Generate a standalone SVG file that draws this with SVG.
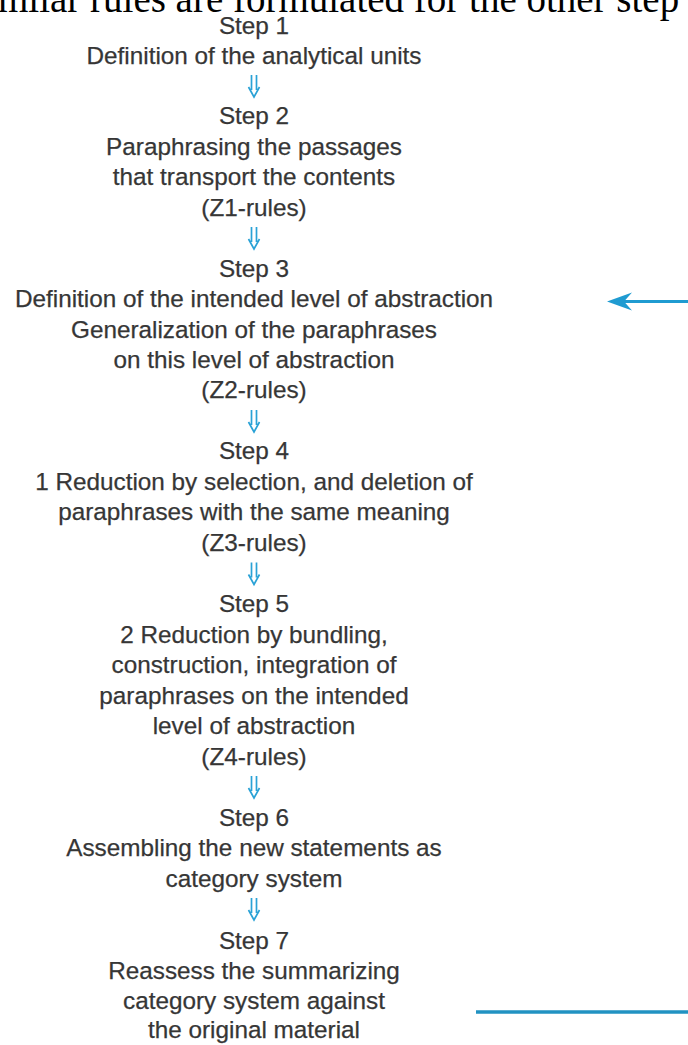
<svg xmlns="http://www.w3.org/2000/svg" width="688" height="1045" viewBox="0 0 688 1045">
<style>
.t{font-family:"Liberation Sans",Arial,sans-serif;font-size:24.3px;fill:#363636;stroke:#363636;stroke-width:0.25;text-anchor:middle}
.s{font-family:"Liberation Serif","Times New Roman",serif;font-size:39px;fill:#000}
.da{fill:none;stroke:#2aa2d6;stroke-width:1.7}
</style>
<defs>
<g id="dbl"><path class="da" d="M-2.5,-11V4M2.5,-11V4M-5.5,1L0,11L5.5,1"/></g>
</defs>
<rect width="688" height="1045" fill="#fff"/>
<text class="s" x="-2" y="12">milar rules are formulated for the other step</text>
<g id="step1"><text class="t" x="254" y="33.5">Step 1</text><text class="t" x="254" y="63.5">Definition of the analytical units</text></g>
<g id="step2"><text class="t" x="254" y="124.4">Step 2</text><text class="t" x="254" y="154.8">Paraphrasing the passages</text><text class="t" x="254" y="185.3">that transport the contents</text><text class="t" x="254" y="215.7">(Z1-rules)</text></g>
<g id="step3"><text class="t" x="254" y="276.6">Step 3</text><text class="t" x="254" y="307">Definition of the intended level of abstraction</text><text class="t" x="254" y="337.5">Generalization of the paraphrases</text><text class="t" x="254" y="368">on this level of abstraction</text><text class="t" x="254" y="398.4">(Z2-rules)</text></g>
<g id="step4"><text class="t" x="254" y="459.3">Step 4</text><text class="t" x="254" y="489.8">1 Reduction by selection, and deletion of</text><text class="t" x="254" y="520.2">paraphrases with the same meaning</text><text class="t" x="254" y="550.7">(Z3-rules)</text></g>
<g id="step5"><text class="t" x="254" y="612">Step 5</text><text class="t" x="254" y="642.5">2 Reduction by bundling,</text><text class="t" x="254" y="673">construction, integration of</text><text class="t" x="254" y="703.5">paraphrases on the intended</text><text class="t" x="254" y="734">level of abstraction</text><text class="t" x="254" y="764.5">(Z4-rules)</text></g>
<g id="step6"><text class="t" x="254" y="825.5">Step 6</text><text class="t" x="254" y="856">Assembling the new statements as</text><text class="t" x="254" y="886.5">category system</text></g>
<g id="step7"><text class="t" x="254" y="948.5">Step 7</text><text class="t" x="254" y="978.5">Reassess the summarizing</text><text class="t" x="254" y="1008.5">category system against</text><text class="t" x="254" y="1038">the original material</text></g>
<g id="connectors">
<use href="#dbl" x="254" y="86"/>
<use href="#dbl" x="254" y="238"/>
<use href="#dbl" x="254" y="421"/>
<use href="#dbl" x="254" y="573.5"/>
<use href="#dbl" x="254" y="787"/>
<use href="#dbl" x="254" y="909"/>
<line x1="688" y1="301.5" x2="616" y2="301.5" stroke="#1f9bd1" stroke-width="3"/>
<polygon points="607,301.5 632,292.5 624,301.5 632,310.5" fill="#1f9bd1"/>
<line x1="476" y1="1012" x2="688" y2="1012" stroke="#2192c2" stroke-width="3.5"/>
</g>
</svg>
